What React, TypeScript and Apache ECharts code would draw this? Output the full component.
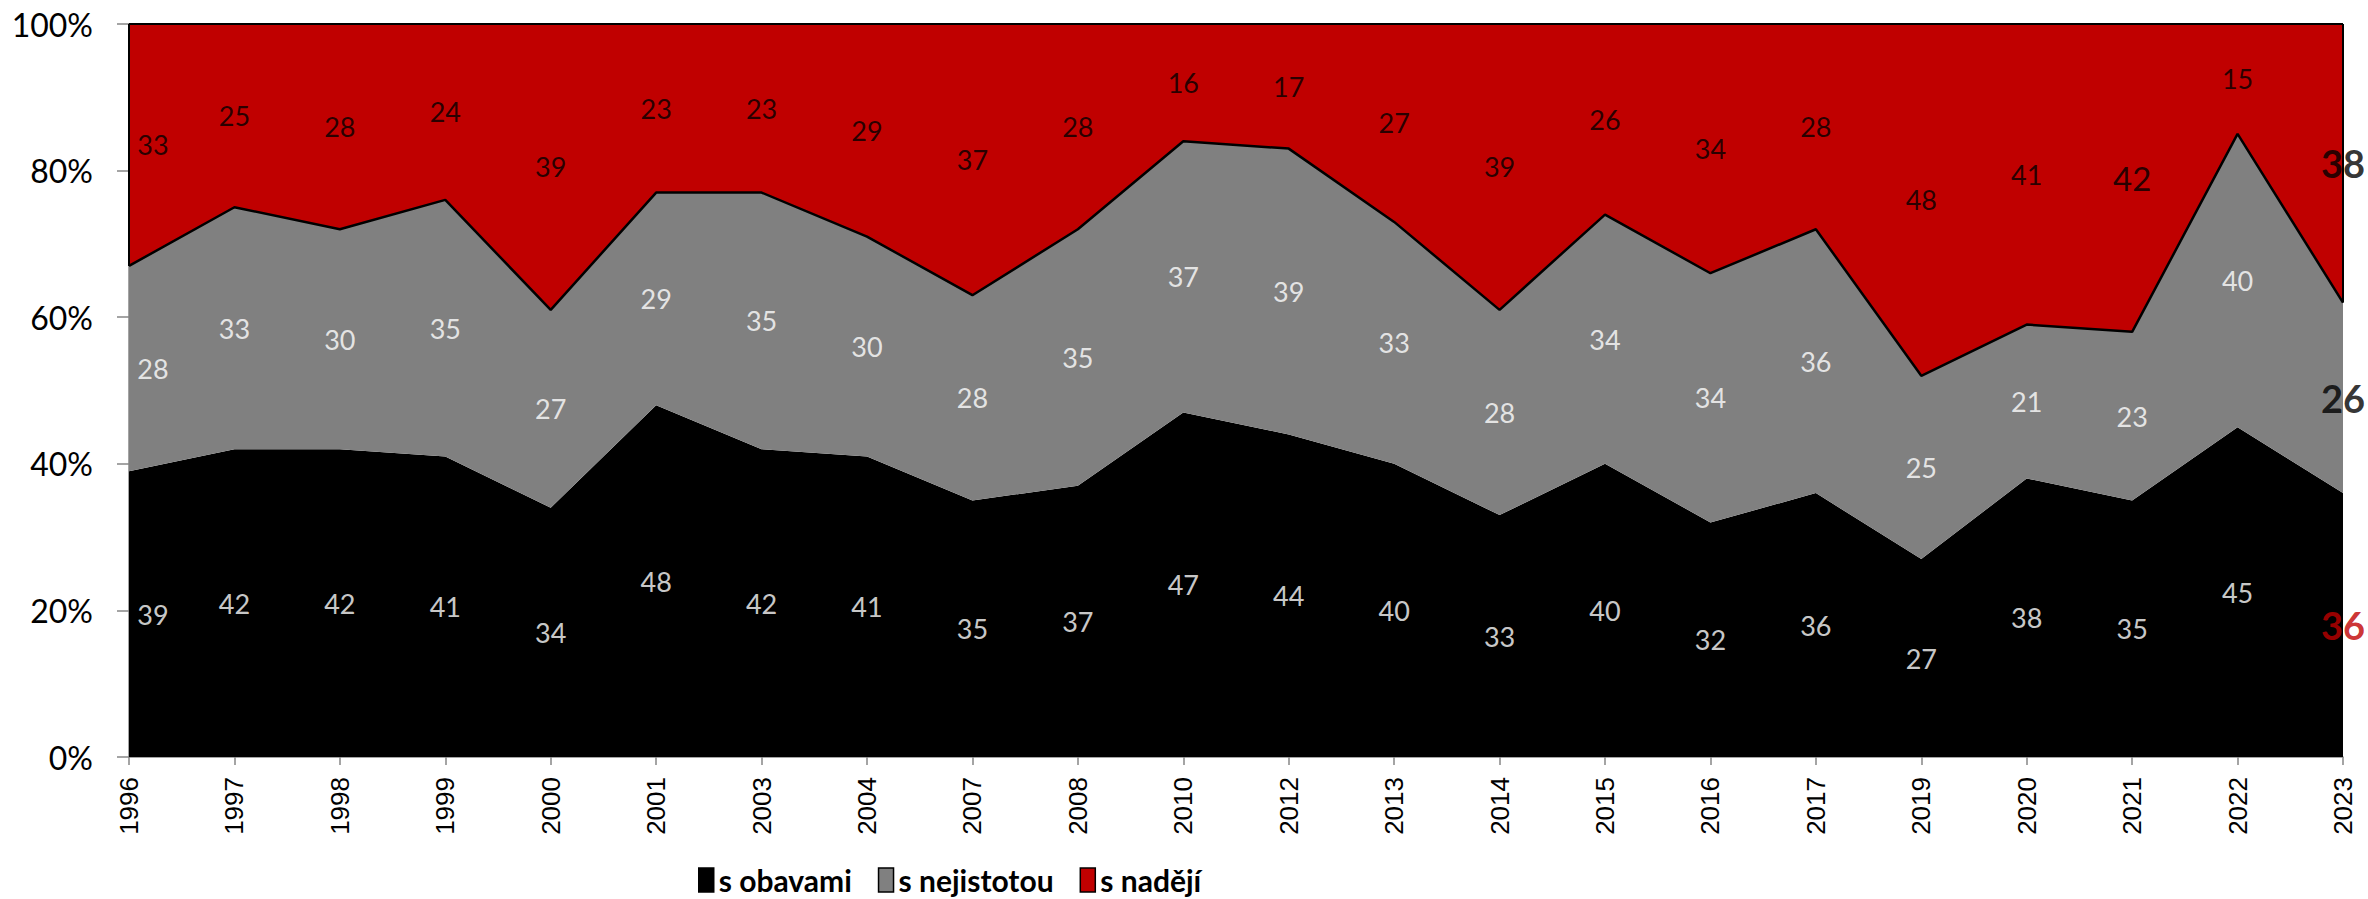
import React, { useEffect, useRef } from "react";
import * as echarts from "echarts";

const years = ["1996", "1997", "1998", "1999", "2000", "2001", "2003", "2004", "2007", "2008", "2010", "2012", "2013", "2014", "2015", "2016", "2017", "2019", "2020", "2021", "2022", "2023"];
const obavami = [39, 42, 42, 41, 34, 48, 42, 41, 35, 37, 47, 44, 40, 33, 40, 32, 36, 27, 38, 35, 45, 36];
const nejistotou = [28, 33, 30, 35, 27, 29, 35, 30, 28, 35, 37, 39, 33, 28, 34, 34, 36, 25, 21, 23, 40, 26];
const nadeji = [33, 25, 28, 24, 39, 23, 23, 29, 37, 28, 16, 17, 27, 39, 26, 34, 28, 48, 41, 42, 15, 38];
const seriesNames = ["s obavami", "s nejistotou", "s nadějí"];
const yTicks = [0, 20, 40, 60, 80, 100];

const COLORS = ["#000000", "#808080", "#C00000"];
const LABEL_COLORS = ["#FFFFFF", "#FFFFFF", "#000000"];
const LAST_LABEL_COLORS = ["#C00000", "#000000", "#000000"];

export default function App() {
  const ref = useRef<HTMLDivElement>(null);

  useEffect(() => {
    document.body.style.margin = "0";
    document.body.style.overflow = "hidden";
    if (!ref.current) return;
    const chart = echarts.init(ref.current, null, { renderer: "svg" });

    const values = [obavami, nejistotou, nadeji];
    const last = years.length - 1;

    const areaSeries = values.map((arr, k) => ({
      name: seriesNames[k],
      type: "line",
      stack: "total",
      data: arr,
      showSymbol: false,
      symbol: "none",
      itemStyle: { color: COLORS[k] },
      areaStyle: { color: COLORS[k], opacity: 1 },
      lineStyle: {
        color: "#000000",
        width: k === 0 ? 0 : k === 1 ? 2.5 : 2,
      },
      z: k === 1 ? 3 : 2,
      silent: true,
      ...(k === 2
        ? {
            markLine: {
              silent: true,
              symbol: "none",
              label: { show: false },
              lineStyle: { color: "#000000", width: 2, type: "solid" },
              data: [
                [
                  { coord: [years[last], 100] },
                  { coord: [years[last], obavami[last] + nejistotou[last]] },
                ],
                [
                  { coord: [years[0], 100] },
                  { coord: [years[0], obavami[0] + nejistotou[0]] },
                ],
              ],
            },
          }
        : {}),
    }));

    const labelSeries = values.map((arr, k) => ({
      name: seriesNames[k] + " label",
      type: "scatter",
      symbolSize: 0,
      silent: true,
      z: 10,
      itemStyle: { color: "transparent" },
      data: arr.map((v, i) => {
        let base = 0;
        for (let j = 0; j < k; j++) base += values[j][i];
        const item: any = {
          value: [years[i], base + v / 2],
          label: {},
        };
        if (i === 0) item.label.offset = [24, 0];
        if (i === last) {
          item.label = {
            fontWeight: "bold",
            fontSize: 38,
            color: LAST_LABEL_COLORS[k],
            textBorderWidth: 0,
          };
        }
        if (k === 2 && years[i] === "2021") item.label.fontSize = 33;
        return item;
      }),
      label: {
        show: true,
        position: "inside",
        formatter: (p: any) => String(values[k][p.dataIndex]),
        color: LABEL_COLORS[k],
        textBorderWidth: 0,
        textShadowBlur: 0,
        fontSize: 27,
        fontFamily: "Lato",
      },
    }));

    chart.setOption({
      animation: false,
      textStyle: { fontFamily: "Lato" },
      grid: { left: 129, right: 25, top: 24, bottom: 142, containLabel: false },
      legend: {
        data: seriesNames,
        left: 693,
        top: 860,
        icon: "rect",
        itemWidth: 15,
        itemHeight: 24,
        itemGap: 26,
        itemStyle: { borderColor: "#000000", borderWidth: 1.5 },
        textStyle: {
          fontFamily: "Lato",
          fontWeight: "bold",
          fontSize: 30,
          lineHeight: 30,
          color: "#000000",
        },
      },
      xAxis: {
        type: "category",
        data: years,
        boundaryGap: false,
        axisLine: { lineStyle: { color: "#868686", width: 1.5 } },
        axisTick: { show: true, length: 8, alignWithLabel: true, lineStyle: { color: "#868686", width: 1.5 } },
        axisLabel: {
          rotate: 90,
          interval: 0,
          margin: 20,
          fontFamily: "Liberation Sans",
          fontSize: 26,
          color: "#000000",
        },
        splitLine: { show: false },
      },
      yAxis: {
        type: "value",
        min: yTicks[0],
        max: yTicks[yTicks.length - 1],
        interval: yTicks[1] - yTicks[0],
        axisLine: { show: true, lineStyle: { color: "#868686", width: 1.5 } },
        axisTick: { show: true, length: 12, lineStyle: { color: "#868686", width: 1.5 } },
        axisLabel: {
          formatter: "{value}%",
          margin: 36,
          fontFamily: "Lato",
          fontSize: 32,
          color: "#000000",
        },
        splitLine: { show: false },
      },
      series: [...areaSeries, ...labelSeries],
    });

    return () => chart.dispose();
  }, []);

  return <div ref={ref} style={{ width: 2368, height: 899 }} />;
}
